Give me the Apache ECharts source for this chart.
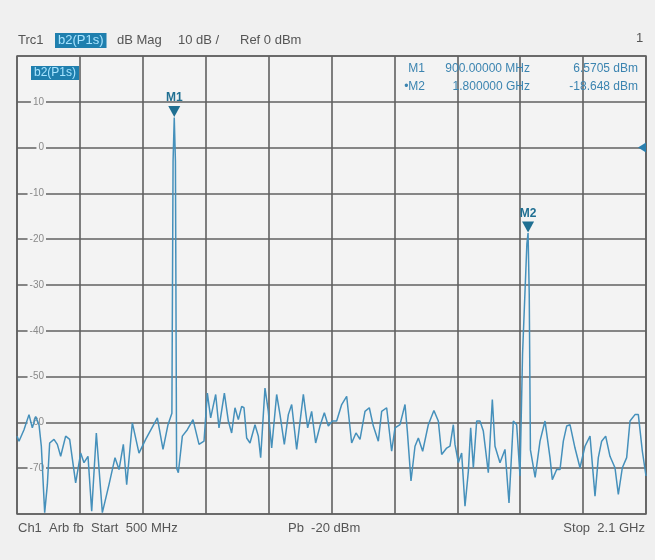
<!DOCTYPE html>
<html>
<head>
<meta charset="utf-8">
<title>b2(P1s) dB Mag</title>
<script src="https://cdn.jsdelivr.net/npm/echarts@6/dist/echarts.min.js"></script>
<style>
  html, body { margin: 0; padding: 0; background: #f0f0f0; }
  #chart { width: 655px; height: 560px; }
</style>
</head>
<body>
<div id="chart"></div>
<script>
// 频率 (MHz) 和电平 (dBm)，从截图读出
var freqMHz = [
  500, 505.1, 517.8, 530.5, 539.0, 547.5, 556.0, 561.9, 570.4, 577.2,
  583.1, 594.1, 602.6, 611.1, 623.8, 634.0, 649.2, 662.0, 670.4, 680.6,
  690.0, 701.8, 717.1, 734.0, 749.3, 759.5, 770.5, 779.0, 793.4, 810.3,
  827.3, 857.0, 871.4, 884.1, 894, 897, 900, 903, 906, 910.4,
  920.6, 933.3, 947.7, 963.0, 975.7, 984.2, 992.6, 1005.4, 1013.8, 1027.5,
  1037.6, 1046.0, 1054.5, 1063.0, 1071.5, 1077.4, 1084.2, 1092.7, 1105.4, 1113.9,
  1119.8, 1130.8, 1139.3, 1147.8, 1160.5, 1169.0, 1180.0, 1190.2, 1198.7, 1211.4,
  1228.4, 1239.4, 1249.5, 1259.7, 1270.7, 1281.8, 1291.9, 1302.1, 1313.1, 1325.9,
  1338.6, 1351.3, 1362.3, 1372.5, 1385.2, 1396.2, 1406.4, 1419.1, 1427.6, 1440.3,
  1453.0, 1461.5, 1474.2, 1487.0, 1492.9, 1502.2, 1512.4, 1520.9, 1531.9, 1546.3,
  1560.5, 1571.7, 1580.2, 1593.0, 1601.4, 1609.9, 1614.1, 1622.6, 1631.1, 1639.6,
  1648.1, 1654.0, 1660.8, 1669.3, 1677.7, 1686.2, 1698.9, 1709.1, 1715.9, 1728.6,
  1741.3, 1751.5, 1762.5, 1771.0, 1779.5, 1786, 1797, 1800, 1803, 1806,
  1818, 1830.4, 1843.1, 1855.8, 1861.7, 1872.8, 1881.2, 1889.7, 1898.2, 1906.7,
  1919.4, 1932.1, 1944.8, 1957.6, 1970.3, 1978.7, 1987.2, 1997.4, 2008.4, 2021.1,
  2029.6, 2039.8, 2050.8, 2059.3, 2072.0, 2080.5, 2090.7, 2100
]
var levelDb = [
  -63.0, -64.1, -61.6, -58.3, -61.2, -58.7, -60.5, -65.2, -79.7, -73.6,
  -64.5, -63.7, -64.8, -67.4, -63.0, -63.7, -73.2, -66.7, -68.8, -67.4,
  -79.4, -62.3, -79.7, -73.6, -67.7, -70.3, -64.8, -73.6, -60.1, -66.7,
  -63.7, -59.0, -65.9, -60.5, -58, -3, 6.5705, -3, -70, -71.0,
  -63.0, -61.6, -59.4, -64.8, -64.1, -53.6, -59.0, -53.9, -61.2, -53.6,
  -59.7, -62.3, -56.8, -59.4, -56.5, -56.8, -63.4, -64.5, -60.5, -63.0,
  -67.7, -52.5, -57.6, -65.6, -53.9, -58.3, -64.8, -58.3, -56.1, -65.9,
  -53.9, -61.2, -57.6, -64.5, -60.8, -57.9, -60.8, -59.7, -59.7, -56.1,
  -54.3, -64.5, -62.3, -63.7, -57.6, -56.8, -60.8, -64.1, -57.6, -56.8,
  -66.3, -61.2, -60.5, -56.1, -61.9, -72.8, -65.2, -63.4, -66.3, -60.5,
  -57.4, -59.7, -67.0, -65.6, -65.2, -60.5, -64.8, -68.8, -66.7, -78.3,
  -70.7, -61.2, -69.9, -59.7, -59.7, -61.9, -71.0, -55.0, -65.2, -68.8,
  -65.9, -77.6, -59.7, -60.5, -71.7, -45, -21, -18.648, -32, -66,
  -72.0, -64.1, -59.7, -67.7, -72.5, -70.3, -70.3, -64.1, -60.8, -60.5,
  -65.6, -69.9, -65.2, -63.0, -76.1, -67.7, -64.1, -63.0, -67.4, -69.9,
  -75.7, -69.9, -67.7, -59.7, -58.3, -58.3, -66.3, -71.7
]
// 标记
var markerNames = ['M1', 'M2']
var markerFreq = [900, 1800]
var markerLevel = [6.5705, -18.648]
var markerFreqText = ['900.00000 MHz', '1.800000 GHz']
var markerLevelText = ['6.5705 dBm', '-18.648 dBm']

var traceData = []
for (let i = 0; i < freqMHz.length; i++) {
    traceData.push([freqMHz[i], levelDb[i]])
}

var markData = []
for (let i = 0; i < markerNames.length; i++) {
    markData.push({
        name: markerNames[i],
        coord: [markerFreq[i], markerLevel[i]],
        symbol: 'path://M0,0 L12,0 L6,11 Z',
        symbolSize: [12, 11],
        symbolOffset: [0, -6],
        itemStyle: { color: '#1f6f92' },
        label: {
            show: true,
            position: 'top',
            distance: 2,
            formatter: '{b}',
            color: '#1f6f92',
            fontWeight: 'bold',
            fontSize: 12,
            fontFamily: 'Liberation Sans'
        }
    })
}
// 参考电平三角
markData.push({
    name: 'ref',
    coord: [2100, 0],
    symbol: 'path://M10,0 L10,10 L0,5 Z',
    symbolSize: [8, 10],
    symbolOffset: [-4, 0],
    itemStyle: { color: '#2a7fae' },
    label: { show: false }
})

var txtFont = '13px "Liberation Sans", Arial, sans-serif'
var markFont = '12px "Liberation Sans", Arial, sans-serif'
var grayTxt = '#555'
var blueTxt = '#3b84b0'

var graphics = [
    { type: 'text', left: 18, top: 34, style: { text: 'Trc1', font: txtFont, fill: grayTxt } },
    { type: 'text', left: 55, top: 33, style: { text: 'b2(P1s)', font: txtFont, fill: '#a8e4ff', backgroundColor: '#1f7fae', padding: [1, 3] } },
    { type: 'text', left: 117, top: 34, style: { text: 'dB Mag', font: txtFont, fill: grayTxt } },
    { type: 'text', left: 178, top: 34, style: { text: '10 dB /', font: txtFont, fill: grayTxt } },
    { type: 'text', left: 240, top: 34, style: { text: 'Ref 0 dBm', font: txtFont, fill: grayTxt } },
    { type: 'text', left: 636, top: 32, style: { text: '1', font: txtFont, fill: grayTxt } },
    { type: 'text', left: 31, top: 66, z: 10, style: { text: 'b2(P1s)', font: markFont, fill: '#a8e4ff', backgroundColor: '#1f7fae', padding: [1, 3] } },
    { type: 'text', left: 18, top: 522, style: { text: 'Ch1  Arb fb  Start  500 MHz', font: txtFont, fill: grayTxt } },
    { type: 'text', left: 288, top: 522, style: { text: 'Pb  -20 dBm', font: txtFont, fill: grayTxt } },
    { type: 'text', right: 10, top: 522, style: { text: 'Stop  2.1 GHz', font: txtFont, fill: grayTxt } }
]
// 标记读数
for (let i = 0; i < markerNames.length; i++) {
    let y = 63 + i * 18
    graphics.push({ type: 'text', right: 230, top: y, z: 10, style: { text: (i === 1 ? '•' : '') + markerNames[i], font: markFont, fill: blueTxt } })
    graphics.push({ type: 'text', right: 125, top: y, z: 10, style: { text: markerFreqText[i], font: markFont, fill: blueTxt } })
    graphics.push({ type: 'text', right: 17, top: y, z: 10, style: { text: markerLevelText[i], font: markFont, fill: blueTxt } })
}

var option = {
    animation: false,
    backgroundColor: '#f0f0f0',
    grid: {
        left: 17,
        right: 9,
        top: 56,
        bottom: 46,
        show: true,
        backgroundColor: '#f3f3f3',
        borderColor: '#666',
        borderWidth: 1.5
    },
    xAxis: {
        type: 'value',
        min: 500,
        max: 2100,
        interval: 160,
        axisLine: { show: false },
        axisTick: { show: false },
        axisLabel: { show: false },
        splitLine: { show: true, lineStyle: { color: '#606060', width: 1.6 } }
    },
    yAxis: {
        type: 'value',
        min: -80,
        max: 20,
        interval: 10,
        axisLine: { show: false },
        axisTick: { show: false },
        axisLabel: {
            inside: true,
            align: 'right',
            margin: 29,
            color: '#8a8a8a',
            fontSize: 10,
            fontFamily: 'Liberation Sans',
            backgroundColor: '#f3f3f3',
            padding: [0, 2],
            showMinLabel: false,
            showMaxLabel: false
        },
        splitLine: { show: true, lineStyle: { color: '#606060', width: 1.6 } }
    },
    graphic: graphics,
    series: [
        {
            name: 'b2(P1s)',
            type: 'line',
            data: traceData,
            showSymbol: false,
            lineStyle: { color: '#4590bb', width: 1.5 },
            markPoint: {
                data: markData
            }
        }
    ]
}

let chart = echarts.init(document.getElementById('chart'))
chart.setOption(option)
window.onresize = () => {
    chart.resize()
}
</script>
</body>
</html>
